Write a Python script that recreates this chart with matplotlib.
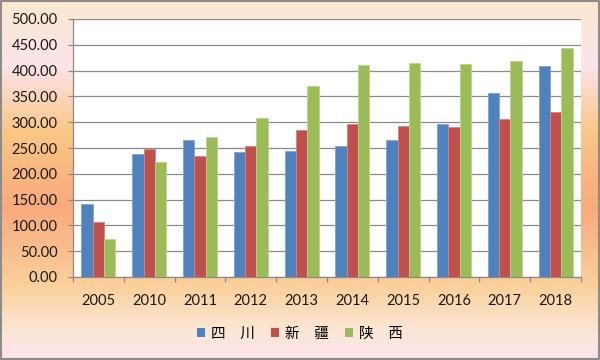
import matplotlib
matplotlib.use('Agg')
import matplotlib.pyplot as plt
import numpy as np
from matplotlib.colors import LinearSegmentedColormap
from matplotlib.patches import Patch

years = ['2005', '2010', '2011', '2012', '2013', '2014', '2015', '2016', '2017', '2018']
sichuan = [142, 238, 265, 242, 244, 253, 266, 296, 356, 409]
xinjiang = [107, 249, 235, 253, 284, 296, 293, 290, 307, 320]
shaanxi = [74, 222, 271, 309, 371, 410, 415, 412, 419, 444]
names = ['四\u3000川', '新\u3000疆', '陕\u3000西']
colors = ['#4F81BD', '#C0504D', '#9BBB59']
edges = ['#7FA3D3', '#D98280', '#BCD48A']

fig = plt.figure(figsize=(6, 3.6), dpi=100)

# background gradient (top -> bottom)
bg = fig.add_axes([0, 0, 1, 1], zorder=-10)
stops = [(0.0, '#FBE9D0'), (0.18, '#FCE3EA'), (0.37, '#F9C684'),
         (0.58, '#F8AA7D'), (0.80, '#FAD19C'), (0.92, '#FCE7D6'), (1.0, '#FCE4EC')]
cmap = LinearSegmentedColormap.from_list('bg', stops)
grad = np.linspace(0, 1, 360).reshape(-1, 1)
bg.imshow(grad, aspect='auto', cmap=cmap, extent=[0, 1, 0, 1])
bg.plot([0.002, 0.998, 0.998, 0.002, 0.002], [0.003, 0.003, 0.997, 0.997, 0.003],
        color='#8C8C8C', lw=1.5)
bg.set_xlim(0, 1)
bg.set_ylim(0, 1)
bg.axis('off')

ax = fig.add_axes([73/600, 83/360, 508/600, 258/360])
ax.set_facecolor('white')

x = np.arange(len(years))
w = 1 / 4.5
for i, vals in enumerate([sichuan, xinjiang, shaanxi]):
    ax.bar(x + (i - 1) * w, vals, w, color=colors[i], edgecolor=edges[i],
           linewidth=0.6, zorder=3)

ax.set_ylim(0, 500)
ax.set_xlim(-0.5, len(years) - 0.5)
ax.set_yticks(np.arange(0, 501, 50))
ax.set_yticklabels(['%.2f' % v for v in np.arange(0, 501, 50)])
ax.grid(axis='y', color='#8A8A8A', lw=0.9, zorder=0)

ax.set_xticks(np.arange(-0.5, len(years), 1))
ax.set_xticklabels([])
ax.set_xticks(x, minor=True)
ax.set_xticklabels(years, minor=True)
ax.tick_params(axis='x', which='major', length=3.6, color='#8A8A8A', width=0.9)
ax.tick_params(axis='x', which='minor', length=0, pad=12, labelsize=10.5,
               labelcolor='#1a1a1a')
ax.tick_params(axis='y', length=3.6, color='#8A8A8A', width=0.9, labelsize=10.5,
               labelcolor='#1a1a1a', pad=7.4)
for lab in ax.get_xticklabels(minor=True) + ax.get_yticklabels():
    lab.set_family(['Lato', 'DejaVu Sans'])

for s in ['top', 'right']:
    ax.spines[s].set_visible(False)
for s in ['left', 'bottom']:
    ax.spines[s].set_color('#8A8A8A')
    ax.spines[s].set_linewidth(0.9)

handles = [Patch(facecolor=c) for c in colors]
fig.legend(handles, names, loc='center', bbox_to_anchor=(0.5, 1 - 334/360),
           ncol=3, frameon=False, handlelength=0.55, handleheight=0.55,
           handletextpad=0.4, columnspacing=1.1,
           prop={'family': ['Noto Sans CJK SC', 'DejaVu Sans'], 'size': 10.5})

fig.savefig('out.png', dpi=100)
